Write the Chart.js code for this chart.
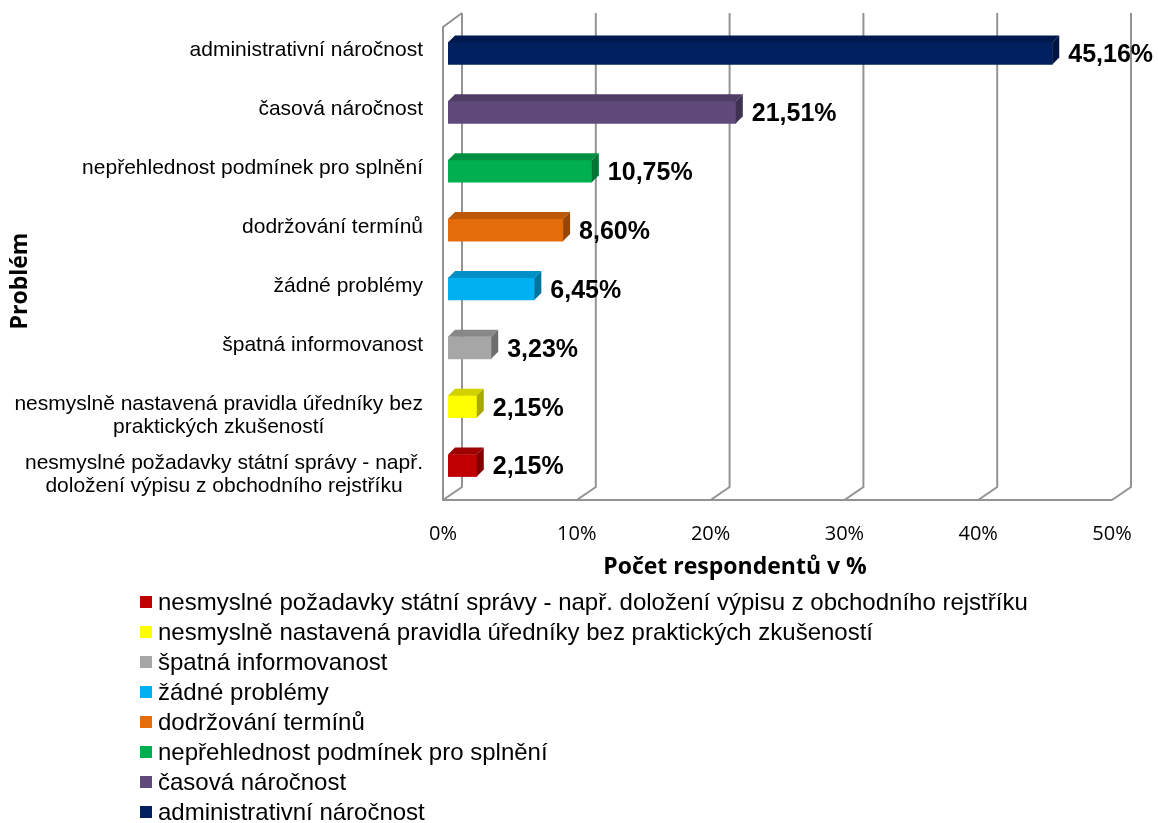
<!DOCTYPE html>
<html>
<head>
<meta charset="utf-8">
<script src="https://cdn.jsdelivr.net/npm/chart.js@4.4.0/dist/chart.umd.min.js"></script>
<style>
body { margin: 0; background: #fff; }
#wrap { position: relative; width: 1158px; height: 823px; }
#legend { position: absolute; left: 140px; top: 587px; margin: 0; padding: 0; list-style: none;
  font-family: "Liberation Sans", Arial, sans-serif; font-size: 24px; color: #000; }
#legend li { height: 30px; line-height: 30px; display: flex; align-items: center; white-space: nowrap; }
#legend span { width: 12px; height: 12px; margin-right: 6px; display: inline-block; }
</style>
</head>
<body>
<div id="wrap">
  <canvas id="chart" width="1158" height="823"></canvas>
  <ul id="legend"></ul>
</div>
<script>
// Data (top to bottom as in the chart)
const categories = [
  ["administrativní náročnost"],
  ["časová náročnost"],
  ["nepřehlednost podmínek pro splnění"],
  ["dodržování termínů"],
  ["žádné problémy"],
  ["špatná informovanost"],
  ["nesmyslně nastavená pravidla úředníky bez", "praktických zkušeností"],
  ["nesmyslné požadavky státní správy - např.", "doložení výpisu z obchodního rejstříku"]
];
const values = [45.16, 21.51, 10.75, 8.60, 6.45, 3.23, 2.15, 2.15];
const colors = ["#002060", "#604a7b", "#00b050", "#e46c0a", "#00b0f0", "#a6a6a6", "#ffff00", "#c00000"];
const xTicks = [0, 10, 20, 30, 40, 50];
const xTitle = "Počet respondentů v %";
const yTitle = "Problém";

// tmavší odstín pro boky sloupců
function shade(hex, f) {
  const n = parseInt(hex.slice(1), 16);
  const r = Math.round(((n >> 16) & 255) * f), g = Math.round(((n >> 8) & 255) * f), b = Math.round((n & 255) * f);
  return `rgb(${r},${g},${b})`;
}

// 3D mřížka (zadní stěna, podlaha, levá stěna)
const grid3d = {
  id: "grid3d",
  beforeDatasetsDraw(chart) {
    const { ctx, chartArea: a, scales: { x } } = chart;
    const fB = a.bottom + 5, bB = a.bottom - 8, bT = a.top - 11, lT = a.top + 3;
    ctx.save();
    ctx.strokeStyle = "#939393";
    ctx.lineWidth = 2;
    ctx.beginPath();
    xTicks.forEach(v => {
      const p = x.getPixelForValue(v);
      ctx.moveTo(p + 14, bT);
      ctx.lineTo(p + 14, bB);
      ctx.lineTo(p - 5, fB);
    });
    const p0 = x.getPixelForValue(0), p1 = x.getPixelForValue(50);
    ctx.moveTo(p1 - 5, fB);
    ctx.lineTo(p0 - 5, fB);
    ctx.lineTo(p0 - 5, lT);
    ctx.lineTo(p0 + 14, bT);
    ctx.stroke();
    ctx.restore();
  }
};

// boky sloupců + popisky hodnot
const bars3d = {
  id: "bars3d",
  afterDatasetsDraw(chart) {
    const ctx = chart.ctx;
    const meta = chart.getDatasetMeta(0);
    const d = 7;
    ctx.save();
    meta.data.forEach((bar, i) => {
      const top = bar.y - bar.height / 2, bot = bar.y + bar.height / 2;
      ctx.fillStyle = shade(colors[i], 0.82);
      ctx.beginPath();
      ctx.moveTo(bar.base, top); ctx.lineTo(bar.x, top);
      ctx.lineTo(bar.x + d, top - d); ctx.lineTo(bar.base + d, top - d);
      ctx.closePath(); ctx.fill();
      ctx.fillStyle = shade(colors[i], 0.66);
      ctx.beginPath();
      ctx.moveTo(bar.x, top); ctx.lineTo(bar.x + d, top - d);
      ctx.lineTo(bar.x + d, bot - d); ctx.lineTo(bar.x, bot);
      ctx.closePath(); ctx.fill();

      ctx.fillStyle = "#000";
      ctx.font = "bold 25px 'Liberation Sans', Arial, sans-serif";
      ctx.textAlign = "left";
      ctx.textBaseline = "middle";
      ctx.fillText(values[i].toFixed(2).replace(".", ",") + "%", bar.x + d + 9, bar.y + 2);
    });
    ctx.restore();
  }
};

// popisky kategorií (víceřádkové centrované) + názvy os
const labels = {
  id: "labels",
  afterDraw(chart) {
    const { ctx, scales: { y } } = chart;
    ctx.save();
    ctx.font = "21px 'Liberation Sans', Arial, sans-serif";
    ctx.fillStyle = "#000";
    ctx.textAlign = "center";
    ctx.textBaseline = "middle";
    const right = 423, lh = 23;
    categories.forEach((lines, i) => {
      const w = Math.max(...lines.map(l => ctx.measureText(l).width));
      const cx = right - w / 2;
      const cy = y.getPixelForValue(i) + (lines.length > 1 ? 9 : -3);
      lines.forEach((l, k) => ctx.fillText(l, cx, cy + (k - (lines.length - 1) / 2) * lh));
    });

    ctx.font = "bold 23px 'Open Sans', sans-serif";
    ctx.fillText(xTitle, 735, 567);
    ctx.translate(20, 281);
    ctx.rotate(-Math.PI / 2);
    ctx.fillText(yTitle, 0, 0);
    ctx.restore();
  }
};

new Chart(document.getElementById("chart"), {
  type: "bar",
  data: {
    labels: categories,
    datasets: [{
      data: values,
      backgroundColor: colors,
      barThickness: 22
    }]
  },
  options: {
    indexAxis: "y",
    responsive: false,
    animation: false,
    layout: { padding: { top: 24, right: 41, bottom: 238, left: 0 } },
    plugins: { legend: { display: false }, tooltip: { enabled: false } },
    scales: {
      x: {
        min: 0, max: 50,
        grid: { display: false },
        border: { display: false },
        ticks: {
          stepSize: 10,
          callback: v => v + "%",
          font: { family: "'Open Sans'", size: 20 },
          color: "#000",
          padding: 19,
          labelOffset: -5
        },
        afterFit(s) { s.height = 90; }
      },
      y: {
        grid: { display: false },
        border: { display: false },
        ticks: { display: false },
        afterFit(s) { s.width = 448; }
      }
    }
  },
  plugins: [grid3d, bars3d, labels]
});

// Legenda (pořadí odspodu)
const legend = document.getElementById("legend");
for (let i = categories.length - 1; i >= 0; i--) {
  const li = document.createElement("li");
  const sw = document.createElement("span");
  sw.style.background = colors[i];
  li.appendChild(sw);
  li.appendChild(document.createTextNode(categories[i].join(" ")));
  legend.appendChild(li);
}
</script>
</body>
</html>
